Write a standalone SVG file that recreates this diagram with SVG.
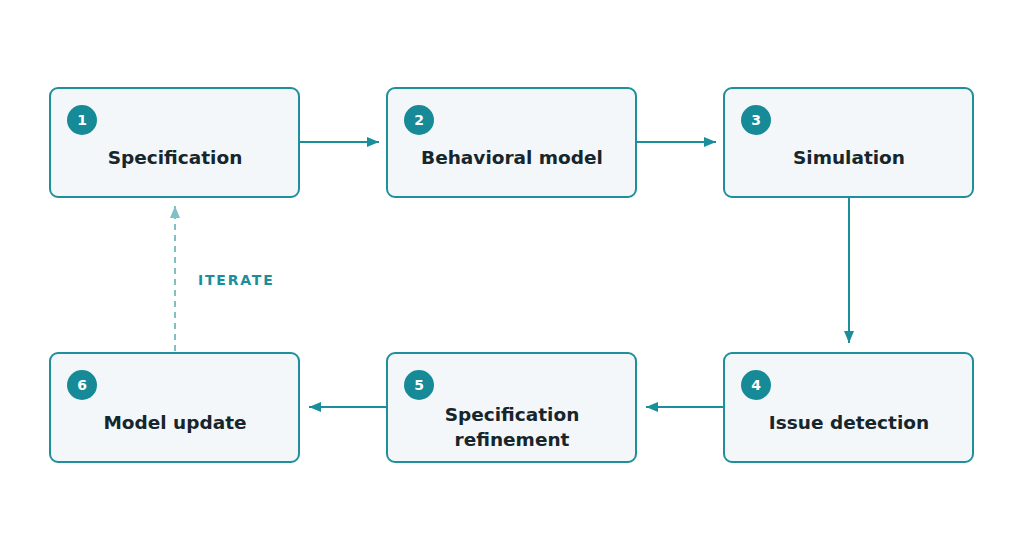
<svg xmlns="http://www.w3.org/2000/svg" width="1024" height="550" viewBox="0 0 1024 550">
<style>
.box{fill:#f3f7f9;stroke:#1f8f9b;stroke-width:2}
.num{fill:#168b97}
.nt{fill:#fff;font:bold 14px "DejaVu Sans",sans-serif;text-anchor:middle}
.lbl{fill:#16262c;font:bold 18.5px "DejaVu Sans",sans-serif;text-anchor:middle}
.c{stroke:#1a8e9a;stroke-width:2;fill:none}
</style>
<defs>
<marker id="a" markerWidth="12" markerHeight="10" refX="12" refY="5" orient="auto" markerUnits="userSpaceOnUse"><path d="M0,0L12,5L0,10z" fill="#1a8e9a"/></marker>
<marker id="b" markerWidth="12" markerHeight="10" refX="12" refY="5" orient="auto" markerUnits="userSpaceOnUse"><path d="M0,0L12,5L0,10z" fill="#80bfc3"/></marker>
</defs>
<rect width="1024" height="550" fill="#fff"/>
<g id="n1"><rect class="box" x="50" y="88" width="249" height="109" rx="8"/><circle class="num" cx="82" cy="120" r="15"/><text class="nt" x="82" y="125">1</text><text class="lbl" x="175" y="164">Specification</text></g>
<g id="n2"><rect class="box" x="387" y="88" width="249" height="109" rx="8"/><circle class="num" cx="419" cy="120" r="15"/><text class="nt" x="419" y="125">2</text><text class="lbl" x="512" y="164">Behavioral model</text></g>
<g id="n3"><rect class="box" x="724" y="88" width="249" height="109" rx="8"/><circle class="num" cx="756" cy="120" r="15"/><text class="nt" x="756" y="125">3</text><text class="lbl" x="849" y="164">Simulation</text></g>
<g id="n4"><rect class="box" x="724" y="353" width="249" height="109" rx="8"/><circle class="num" cx="756" cy="385" r="15"/><text class="nt" x="756" y="390">4</text><text class="lbl" x="849" y="429">Issue detection</text></g>
<g id="n5"><rect class="box" x="387" y="353" width="249" height="109" rx="8"/><circle class="num" cx="419" cy="385" r="15"/><text class="nt" x="419" y="390">5</text><text class="lbl" x="512" y="421">Specification</text><text class="lbl" x="512" y="446">refinement</text></g>
<g id="n6"><rect class="box" x="50" y="353" width="249" height="109" rx="8"/><circle class="num" cx="82" cy="385" r="15"/><text class="nt" x="82" y="390">6</text><text class="lbl" x="175" y="429">Model update</text></g>
<g id="connectors">
<path class="c" d="M300,142H379" marker-end="url(#a)"/>
<path class="c" d="M637,142H716" marker-end="url(#a)"/>
<path class="c" d="M849,198V343" marker-end="url(#a)"/>
<path class="c" d="M723,407H646" marker-end="url(#a)"/>
<path class="c" d="M386,407H309" marker-end="url(#a)"/>
<path d="M175,351V206" stroke="#80bfc3" stroke-width="2" stroke-dasharray="6,5" fill="none" marker-end="url(#b)"/>
<text x="198" y="285" fill="#1a8e9a" style="font:bold 14px 'DejaVu Sans',sans-serif;letter-spacing:1.8px">ITERATE</text>
</g>
</svg>
